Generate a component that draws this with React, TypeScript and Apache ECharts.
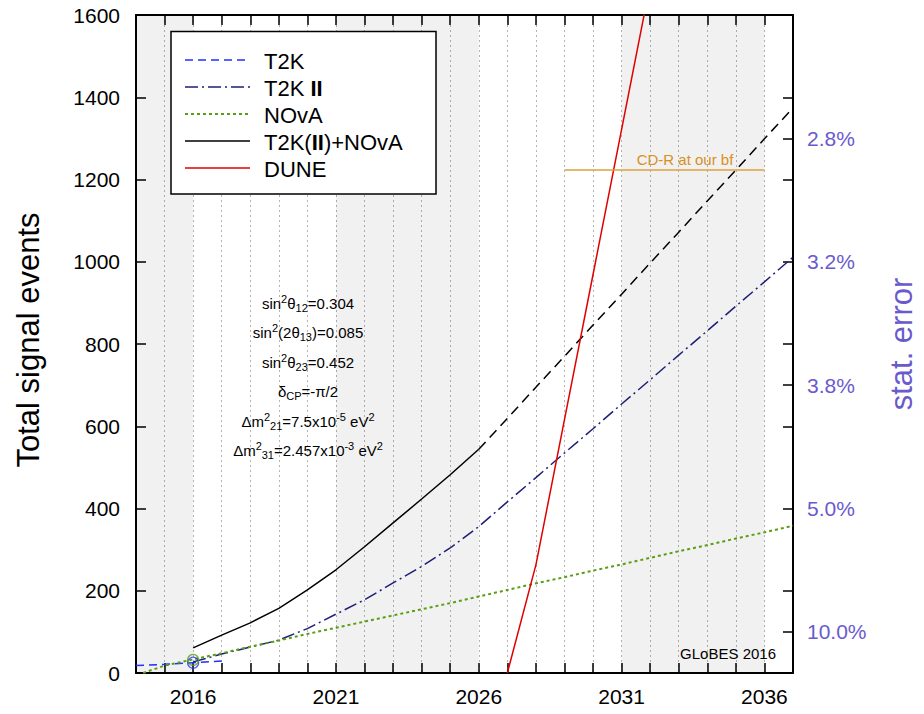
import React, { useEffect, useRef } from 'react';
import * as echarts from 'echarts';

// ---------- data ----------
const t2kYears = [2014, 2015, 2016, 2017];
const t2kEvents = [18, 21, 25, 29];

const t2k2Years = [2016, 2017, 2018, 2019, 2020, 2021, 2022, 2023, 2024, 2025, 2026, 2027, 2028, 2029, 2030, 2031, 2032, 2033, 2034, 2035, 2036, 2037];
const t2k2Events = [27, 46, 63, 80, 108, 143, 178, 219, 259, 304, 356, 416, 475, 535, 594, 654, 713, 773, 832, 892, 951, 1011];

const novaYears = [2014.25, 2015, 2016, 2017, 2018, 2019, 2020, 2021, 2022, 2023, 2024, 2025, 2026, 2027, 2028, 2029, 2030, 2031, 2032, 2033, 2034, 2035, 2036, 2037];
const novaEvents = [0, 18, 33, 48, 64, 79, 95, 110, 125, 140, 155, 170, 186, 202, 218, 233, 249, 264, 280, 296, 311, 327, 342, 358];

const combinedYears = [2016, 2017, 2018, 2019, 2020, 2021, 2022, 2023, 2024, 2025, 2026];
const combinedEvents = [61, 92, 122, 157, 202, 251, 307, 365, 423, 482, 544];

const combinedFutureYears = [2026, 2027, 2028, 2029, 2030, 2031, 2032, 2033, 2034, 2035, 2036, 2037];
const combinedFutureEvents = [544, 619, 695, 770, 846, 921, 997, 1072, 1148, 1223, 1299, 1374];

const duneYears = [2027, 2028, 2029, 2030, 2031, 2032];
const duneEvents = [0, 263, 616, 969, 1322, 1675];

const cdrYears = [2029, 2036];
const cdrEvents = [1223, 1223];

const t2kMarkerYears = [2016];
const t2kMarkerEvents = [25];
const novaMarkerYears = [2016];
const novaMarkerEvents = [32];

const shadedBands = [[2014, 2016], [2021, 2026], [2031, 2036]];

const xLabelYears = [2016, 2021, 2026, 2031, 2036];
const rightTickValues = [100, 200, 400, 600, 700, 800, 1000, 1200, 1300, 1400, 1600];
const rightLabelValues = [100, 400, 700, 1000, 1300];
const rightLabelTexts = ['10.0%', '5.0%', '3.8%', '3.2%', '2.8%'];

const legendNames = ['T2K', 'T2K {b|II}', 'NOvA', 'T2K({b|II})+NOvA', 'DUNE'];

// ---------- styles ----------
const FONT = '"Liberation Sans", Arial, Helvetica, sans-serif';
const C_T2K = '#2030ff';
const C_T2K2 = '#1e1e78';
const C_NOVA = '#5a9e14';
const C_COMB = '#000000';
const C_DUNE = '#e00000';
const C_CDR = '#dca040';
const C_PURPLE = '#6a5acd';

const D_T2K = [8, 5];
const D_T2K2 = [13, 4, 2, 4];
const D_NOVA = [3, 3];
const D_FUT = [10, 6];

const zip = (xs: number[], ys: number[]) => xs.map((x, i) => [x, ys[i]]);

const supSub = {
  sup: { fontSize: 11, fontFamily: FONT, lineHeight: 10, verticalAlign: 'top', fill: '#000' },
  sub: { fontSize: 11, fontFamily: FONT, lineHeight: 10, verticalAlign: 'bottom', fill: '#000' },
};

const paramLines = [
  'sin{sup|2}θ{sub|12}=0.304',
  'sin{sup|2}(2θ{sub|13})=0.085',
  'sin{sup|2}θ{sub|23}=0.452',
  'δ{sub|CP}=-π/2',
  'Δm{sup|2}{sub|21}=7.5x10{sup|-5} eV{sup|2}',
  'Δm{sup|2}{sub|31}=2.457x10{sup|-3} eV{sup|2}',
];

function textEl(x: number, y: number, text: string, extra: any = {}, rot = 0) {
  const align = extra.align || 'center';
  const valign = extra.verticalAlign || 'middle';
  return {
    type: 'text',
    x,
    y,
    rotation: rot,
    z: 100,
    silent: true,
    style: {
      text,
      fontFamily: FONT,
      fontSize: 15,
      fill: '#000',
      ...extra,
      align,
      verticalAlign: valign,
      textAlign: align,
      textVerticalAlign: valign,
    },
  };
}

export default function App() {
  const ref = useRef<HTMLDivElement>(null);

  useEffect(() => {
    if (!ref.current) return;
    const chart = echarts.init(ref.current, undefined, { renderer: 'svg' });

    const legendStyles = [
      { color: C_T2K, dash: D_T2K, w: 1.5 },
      { color: C_T2K2, dash: D_T2K2, w: 1.5 },
      { color: C_NOVA, dash: D_NOVA, w: 2 },
      { color: C_COMB, dash: null, w: 1.5 },
      { color: C_DUNE, dash: null, w: 1.5 },
    ];
    const legendRowY = [60, 87, 114, 141, 168];

    const graphics: any[] = [
      {
        type: 'rect',
        z: 90,
        silent: true,
        shape: { x: 171, y: 31.5, width: 265, height: 162.5 },
        style: { fill: '#ffffff', stroke: '#000', lineWidth: 1.5 },
      },
    ];
    legendStyles.forEach((s, i) => {
      graphics.push({
        type: 'line',
        z: 95,
        silent: true,
        shape: { x1: 185, y1: legendRowY[i], x2: 250, y2: legendRowY[i] },
        style: { stroke: s.color, lineWidth: s.w, lineDash: s.dash || undefined },
      });
      graphics.push(
        textEl(264, legendRowY[i] + 1, legendNames[i], {
          fontSize: 22,
          align: 'left',
          rich: { b: { fontSize: 22, fontFamily: FONT, fontWeight: 'bold', fill: '#000' } },
        })
      );
    });

    const paramY = [303, 332.5, 362, 391.5, 421, 450.5];
    paramLines.forEach((t, i) => {
      graphics.push(textEl(308, paramY[i], t, { fontSize: 15, lineHeight: 20, rich: supSub }));
    });

    graphics.push(textEl(685, 159, 'CD-R at our bf', { fontSize: 15, fill: '#d8901c' }));
    graphics.push(textEl(776, 653, 'GLoBES 2016', { fontSize: 15, align: 'right' }));
    graphics.push(textEl(28, 340, 'Total signal events', { fontSize: 31 }, Math.PI / 2));
    graphics.push(textEl(901, 344, 'stat. error', { fontSize: 31, fill: C_PURPLE }, Math.PI / 2));

    const lineSeries = (name: string, data: number[][], color: string, type: any, width = 1.5, extra: any = {}) => ({
      name,
      type: 'line',
      data,
      showSymbol: false,
      symbol: 'none',
      silent: true,
      z: 3,
      lineStyle: { color, width, type },
      itemStyle: { color },
      ...extra,
    });

    const option: any = {
      animation: false,
      backgroundColor: '#ffffff',
      grid: { left: 136, right: 131, top: 15, bottom: 41, containLabel: false, outerBoundsMode: 'none' },
      xAxis: [
        {
          type: 'value',
          min: 2014,
          max: 2037,
          interval: 1,
          position: 'bottom',
          axisLine: { show: true, onZero: false, lineStyle: { color: '#000', width: 2 } },
          axisTick: { show: true, inside: true, length: 10, lineStyle: { color: '#000', width: 1.5 } },
          axisLabel: {
            show: true,
            customValues: xLabelYears,
            formatter: (v: number) => String(v),
            color: '#000',
            fontSize: 21,
            fontFamily: FONT,
            margin: 13,
          },
          splitLine: { show: true, lineStyle: { color: '#b4b4b4', width: 1, type: [2, 3] } },
        },
        {
          type: 'value',
          min: 2014,
          max: 2037,
          interval: 1,
          position: 'top',
          axisLine: { show: true, onZero: false, lineStyle: { color: '#000', width: 2 } },
          axisTick: { show: true, inside: true, length: 10, lineStyle: { color: '#000', width: 1.5 } },
          axisLabel: { show: false },
          splitLine: { show: false },
        },
      ],
      yAxis: [
        {
          type: 'value',
          min: 0,
          max: 1600,
          interval: 200,
          position: 'left',
          axisLine: { show: true, onZero: false, lineStyle: { color: '#000', width: 2 } },
          axisTick: { show: true, inside: true, length: 10, lineStyle: { color: '#000', width: 1.5 } },
          axisLabel: {
            color: '#000',
            fontSize: 21,
            fontFamily: FONT,
            margin: 16,
            formatter: (v: number) => String(v),
          },
          splitLine: { show: false },
        },
        {
          type: 'value',
          min: 0,
          max: 1600,
          position: 'right',
          axisLine: { show: true, onZero: false, lineStyle: { color: '#000', width: 2 } },
          axisTick: {
            show: true,
            inside: true,
            length: 10,
            customValues: rightTickValues,
            lineStyle: { color: '#000', width: 1.5 },
          },
          axisLabel: {
            show: true,
            customValues: rightLabelValues,
            formatter: (v: number) => {
              const idx = rightLabelValues.indexOf(v);
              return idx >= 0 ? rightLabelTexts[idx] : '';
            },
            color: C_PURPLE,
            fontSize: 21,
            fontFamily: FONT,
            margin: 14,
          },
          splitLine: { show: false },
        },
      ],
      series: [
        lineSeries('T2K', zip(t2kYears, t2kEvents), C_T2K, D_T2K, 1.5, {
          markArea: {
            silent: true,
            itemStyle: { color: 'rgba(0,0,0,0.055)' },
            data: shadedBands.map(([a, b]) => [{ xAxis: a }, { xAxis: b }]),
          },
        }),
        lineSeries('T2K II', zip(t2k2Years, t2k2Events), C_T2K2, D_T2K2),
        lineSeries('NOvA', zip(novaYears, novaEvents), C_NOVA, D_NOVA, 2),
        lineSeries('T2K(II)+NOvA', zip(combinedYears, combinedEvents), C_COMB, 'solid'),
        lineSeries('T2K(II)+NOvA future', zip(combinedFutureYears, combinedFutureEvents), C_COMB, D_FUT),
        lineSeries('DUNE', zip(duneYears, duneEvents), C_DUNE, 'solid'),
        lineSeries('CD-R at our bf', zip(cdrYears, cdrEvents), C_CDR, 'solid'),
        {
          name: 'T2K marker',
          type: 'scatter',
          silent: true,
          z: 4,
          symbol: 'circle',
          symbolSize: 11,
          data: zip(t2kMarkerYears, t2kMarkerEvents),
          itemStyle: { color: 'rgba(0,0,0,0)', borderColor: C_T2K, borderWidth: 1.3 },
        },
        {
          name: 'NOvA marker',
          type: 'scatter',
          silent: true,
          z: 4,
          symbol: 'circle',
          symbolSize: 11,
          data: zip(novaMarkerYears, novaMarkerEvents),
          itemStyle: { color: 'rgba(0,0,0,0)', borderColor: C_NOVA, borderWidth: 1.3 },
        },
      ],
      graphic: { elements: graphics },
    };

    chart.setOption(option);
    return () => chart.dispose();
  }, []);

  return (
    <div
      ref={ref}
      style={{ position: 'fixed', left: 0, top: 0, width: '924px', height: '714px', background: '#fff' }}
    />
  );
}
